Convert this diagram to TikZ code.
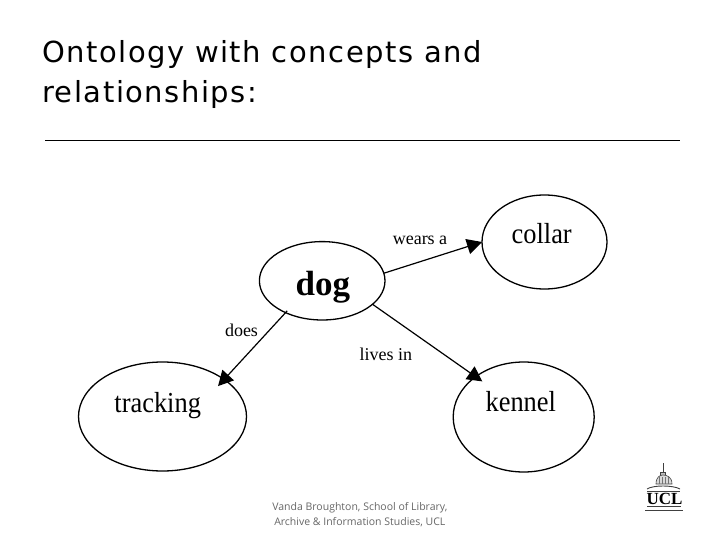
\documentclass[tikz,border=0pt]{standalone}
\usepackage{fontspec}
\setmainfont{Liberation Serif}
\newfontfamily\titlefont[LetterSpace=5.2]{DejaVu Sans}
\newfontfamily\footfont{Open Sans}
\usetikzlibrary{arrows.meta,shapes.geometric}
\tikzset{
  concept/.style={draw=black,ellipse,line width=1.3pt,inner sep=0pt,outer sep=0pt},
  word/.style={inner sep=0pt,anchor=base,font=\fontsize{29}{29}\selectfont,text=black},
  rel/.style={inner sep=0pt,anchor=base,font=\fontsize{18}{18}\selectfont,text=black},
  link/.style={draw=black,line width=1.2pt,-{Triangle[length=15pt,width=15.5pt]}},
  titletext/.style={inner sep=0pt,anchor=base west,font=\titlefont\fontsize{29}{29}\selectfont,text=black},
  foot/.style={inner sep=0pt,anchor=base,font=\footfont\fontsize{10.5}{10.5}\selectfont,text=black!60},
  logo/.style={draw=black!75,line width=0.6pt}
}
\begin{document}
\begin{tikzpicture}[x=1pt,y=-1pt]
\useasboundingbox (0,0) rectangle (720,540);
\node[titletext] (t1) at (42,62.3) {Ontology with concepts and};
\node[titletext] (t2) at (42,102.3) {relationships:};
\coordinate (ruleA) at (45,140.5);
\coordinate (ruleB) at (680,140.5);
\draw[black,line width=0.8pt] (ruleA) -- (ruleB);

\node[concept,minimum width=125.6pt,minimum height=78.4pt] (dog) at (322.2,280.8) {};
\node[concept,minimum width=125pt,minimum height=94pt] (collar) at (544.5,242) {};
\node[concept,minimum width=168pt,minimum height=109pt] (tracking) at (162.5,416.5) {};
\node[concept,minimum width=141pt,minimum height=110pt] (kennel) at (523.7,417) {};

\node[word,font=\fontsize{35}{35}\selectfont\bfseries] (dogt) at (322.8,295) {dog};
\node[word] (collart) at (541.7,243.3) {\scalebox{.91}[1]{collar}};
\node[word] (trackt) at (157.7,412.3) {\scalebox{.91}[1]{tracking}};
\node[word] (kennt) at (520.8,411.7) {\scalebox{.91}[1]{kennel}};

\draw[link] (dog.7.4) -- (collar.180);
\draw[link,shorten <=-2.5pt,shorten >=-9pt] (dog.221) -- (tracking.31);
\draw[link,shorten >=-8.1pt] (dog.-25.6) -- (kennel.140.4);

\node[rel] (l1) at (420,244) {wears a};
\node[rel] (l2) at (241.5,336) {does};
\node[rel] (l3) at (385.8,360) {lives in};

\node[foot] (f1) at (359.8,510.7) {Vanda Broughton, School of Library,};
\node[foot] (f2) at (359.8,525.7) {Archive \& Information Studies, UCL};

% UCL logo
\draw[logo] (663,463) -- (663,472);
\draw[logo,fill=black!25] (660.5,472) rectangle (665.5,475);
\draw[logo,fill=black!15] (656,484) .. controls (656,477) and (660,475) .. (663,475) .. controls (667,475) and (672,477) .. (672,484) -- cycle;
\foreach \xx in {659,662,665,668}{\draw[black!55,line width=0.5pt] (\xx,477) -- (\xx,484);}
\draw[logo,line width=0.9pt] (647,489) .. controls (653,485) and (673,485) .. (680,489);
\draw[logo] (647,491) -- (680,491);
\node[inner sep=0pt,font=\fontsize{17}{17}\selectfont\bfseries,text=black] (ucl) at (664.5,498.5) {UCL};
\draw[logo] (647,506.5) -- (681,506.5);
\draw[logo] (645,510.5) -- (683,510.5);
\end{tikzpicture}
\end{document}
